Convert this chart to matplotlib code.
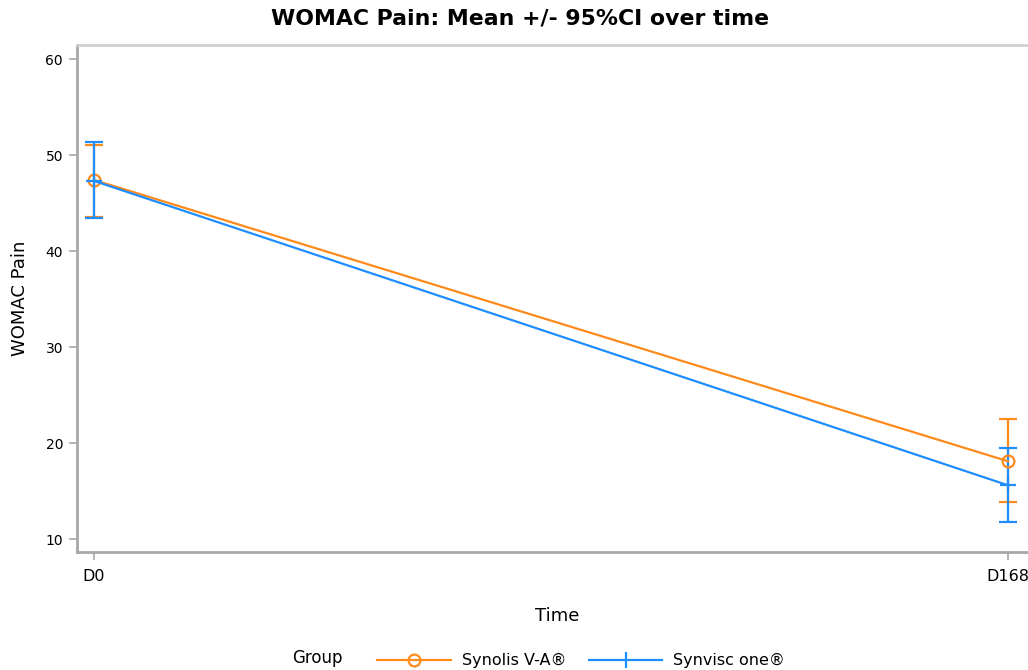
import numpy as np
import matplotlib.pyplot as plt
import matplotlib.transforms as mtransforms
from matplotlib.lines import Line2D

# Data
time_labels = ['D0', 'D168']
synolis_mean = [47.4, 18.1]
synolis_low = [43.5, 13.9]
synolis_high = [51.0, 22.5]
synvisc_mean = [47.3, 15.6]
synvisc_low = [43.4, 11.8]
synvisc_high = [51.4, 19.5]

orange = '#FF8A1C'
blue = '#1E8EFF'
grey = '#A8A8A8'

fig = plt.figure(figsize=(10.28, 6.70), dpi=100)
ax = fig.add_axes([0.0749, 0.1761, 0.935, 0.7567])

x = np.arange(len(time_labels))

def draw(mean, low, high, color, marker, ms):
    mean = np.array(mean)
    err = [mean - np.array(low), np.array(high) - mean]
    ax.errorbar(x, mean, yerr=err, color=color, lw=1.6, capsize=6.5,
                capthick=1.6, elinewidth=1.6, marker=marker, ms=ms,
                mfc='none', mec=color, mew=1.6, clip_on=False)

draw(synolis_mean, synolis_low, synolis_high, orange, 'o', 8.5)
draw(synvisc_mean, synvisc_low, synvisc_high, blue, '+', 11)

ax.set_xlim(-0.0186, 1.033)
ax.set_ylim(8.646, 61.458)
ax.set_xticks(x)
ax.set_xticklabels(time_labels, fontsize=11.5)
# nudge the last label a bit left so it stays inside the figure
lab = ax.get_xticklabels()[1]
lab.set_transform(lab.get_transform() +
                  mtransforms.ScaledTranslation(-5 / 100, 0, fig.dpi_scale_trans))
ax.tick_params(axis='y', labelsize=10, length=6, color=grey, width=1.2, pad=4)
ax.tick_params(axis='x', length=6, color=grey, width=1.2, pad=6)

for side in ['left', 'bottom']:
    ax.spines[side].set_color(grey)
    ax.spines[side].set_linewidth(2)
ax.spines['top'].set_color('#D0D0D0')
ax.spines['top'].set_linewidth(2)
ax.spines['right'].set_visible(False)

ax.set_ylabel('WOMAC Pain', fontsize=13, labelpad=12)
ax.set_xlabel('Time', fontsize=13, labelpad=17)
fig.suptitle('WOMAC Pain: Mean +/- 95%CI over time', fontsize=15.8,
             fontweight='bold', x=0.506, y=0.987)

# Legend at the bottom
fig.text(0.284, 0.004, 'Group', fontsize=12, va='bottom')
handles = [Line2D([], [], color=orange, lw=1.6, marker='o', ms=8.5, mfc='none', mew=1.6),
           Line2D([], [], color=blue, lw=1.6, marker='|', ms=11, mew=1.6)]
fig.legend(handles, ['Synolis V-A®', 'Synvisc one®'], loc='lower left',
           bbox_to_anchor=(0.353, -0.019), ncol=2, frameon=False, fontsize=11.5,
           handlelength=4.6, columnspacing=1.4, handletextpad=0.7)

plt.savefig('out.png', dpi=100)
